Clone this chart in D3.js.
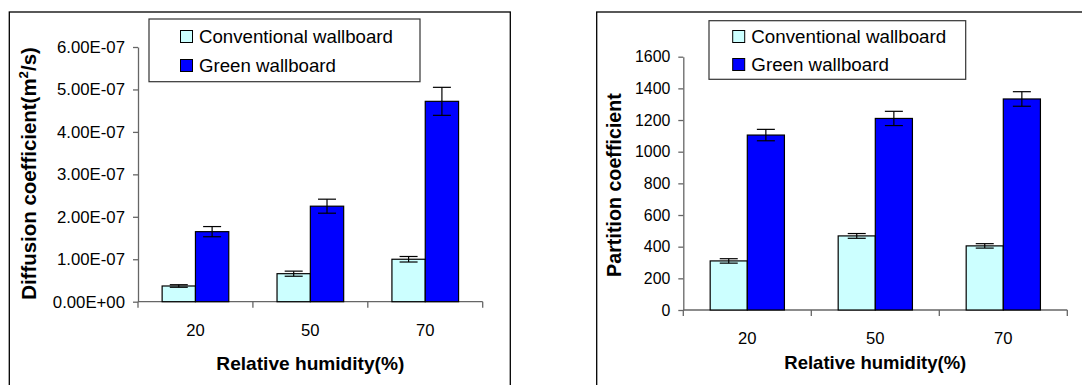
<!DOCTYPE html>
<html>
<head>
<meta charset="utf-8">
<script src="https://cdn.jsdelivr.net/npm/d3@7"></script>
<style>
  html, body { margin: 0; padding: 0; background: #fff; }
  svg { display: block; font-family: "Liberation Sans", Arial, sans-serif; }
</style>
</head>
<body>
<svg id="chart" width="1082" height="385"></svg>
<script>
// ---------- DATA ----------
const categories = ["20", "50", "70"];
const seriesNames = ["Conventional wallboard", "Green wallboard"];

const diffConventional = [0.37e-7, 0.66e-7, 1.00e-7];
const diffConventionalErr = [0.03e-7, 0.06e-7, 0.065e-7];
const diffGreen = [1.65e-7, 2.25e-7, 4.72e-7];
const diffGreenErr = [0.12e-7, 0.165e-7, 0.33e-7];
const diffTicks = [0, 1e-7, 2e-7, 3e-7, 4e-7, 5e-7, 6e-7];
const diffTickLabels = ["0.00E+00", "1.00E-07", "2.00E-07", "3.00E-07", "4.00E-07", "5.00E-07", "6.00E-07"];

const partConventional = [310, 468, 405];
const partConventionalErr = [14, 15, 14];
const partGreen = [1105, 1210, 1333];
const partGreenErr = [36, 45, 46];
const partTicks = [0, 200, 400, 600, 800, 1000, 1200, 1400, 1600];
const partTickLabels = ["0", "200", "400", "600", "800", "1000", "1200", "1400", "1600"];

const xTitle = "Relative humidity(%)";

// ---------- STYLE / LAYOUT ----------
const colors = ["#CCFFFF", "#0000FF"];
const svg = d3.select("#chart");

function fitSize(sel, target) {
  // returns font-size that makes the (first) node's length equal target
  const node = sel.node();
  const fs = parseFloat(sel.attr("font-size"));
  const len = node.getComputedTextLength();
  return len > 0 ? fs * target / len : fs;
}
function fitText(sel, target) {
  sel.attr("font-size", fitSize(sel, target).toFixed(2));
}

function drawPanel(cfg) {
  const g = svg.append("g");
  g.append("rect")
    .attr("x", cfg.frame[0]).attr("y", cfg.frame[1])
    .attr("width", cfg.frame[2]).attr("height", cfg.frame[3])
    .attr("fill", "none").attr("stroke", "#000").attr("stroke-width", 1.3);

  const x = d3.scaleBand().domain(categories).range([cfg.x0, cfg.x1]).padding(0);
  const groupW = x.bandwidth() * 0.58;
  const xs = d3.scaleBand().domain([0, 1]).range([0, groupW]).padding(0);
  const y = d3.scaleLinear().domain([cfg.ticks[0], cfg.ticks[cfg.ticks.length - 1]]).range([cfg.y0, cfg.y1]);

  // Y axis
  const yAxis = d3.axisLeft(y).tickValues(cfg.ticks)
    .tickFormat((d, i) => cfg.tickLabels[i]).tickSizeOuter(0).tickSizeInner(5).tickPadding(8);
  const ya = g.append("g").attr("transform", `translate(${cfg.x0},0)`).call(yAxis);
  ya.attr("font-family", null).attr("font-size", null);
  ya.select(".domain").attr("stroke", "#666").attr("stroke-width", 1.3);
  ya.selectAll(".tick line").attr("stroke", "#666").attr("stroke-width", 1.3);
  const ytexts = ya.selectAll(".tick text").attr("font-size", 15).attr("fill", "#000");
  const top = ytexts.filter((d, i) => i === cfg.ticks.length - 1);
  const yfs = fitSize(top, cfg.yTickLen);
  ytexts.attr("font-size", yfs.toFixed(2));

  // X axis
  const boundaries = categories.map(c => x(c)).concat([cfg.x1]);
  g.append("line").attr("x1", cfg.x0).attr("x2", cfg.x1).attr("y1", cfg.y0).attr("y2", cfg.y0)
    .attr("stroke", "#666").attr("stroke-width", 1.3);
  g.selectAll(".xtick").data(boundaries).join("line")
    .attr("x1", d => d).attr("x2", d => d).attr("y1", cfg.y0).attr("y2", cfg.y0 + 6)
    .attr("stroke", "#666").attr("stroke-width", 1.3);
  const xl = g.selectAll(".xlab").data(categories).join("text")
    .attr("x", d => x(d) + x.bandwidth() / 2).attr("y", cfg.y0 + 34)
    .attr("text-anchor", "middle").attr("font-size", 16.5).text(d => d);
  const xfs = fitSize(d3.select(xl.nodes()[0]), 18.5);
  xl.attr("font-size", xfs.toFixed(2));

  // Bars
  const series = [cfg.conv, cfg.green];
  const errs = [cfg.convErr, cfg.greenErr];
  series.forEach((vals, si) => {
    const bx = (i) => x(categories[i]) + (x.bandwidth() - groupW) / 2 + xs(si);
    g.append("g").selectAll("rect").data(vals).join("rect")
      .attr("x", (d, i) => bx(i)).attr("width", xs.bandwidth())
      .attr("y", d => y(d)).attr("height", d => y(0) - y(d))
      .attr("fill", colors[si]).attr("stroke", "#000").attr("stroke-width", 1.2);
    const eg = g.append("g");
    vals.forEach((v, i) => {
      const cx = bx(i) + xs.bandwidth() / 2;
      const e = errs[si][i];
      eg.append("line").attr("x1", cx).attr("x2", cx).attr("y1", y(v + e)).attr("y2", y(v - e))
        .attr("stroke", "#000").attr("stroke-width", 1.2);
      [v + e, v - e].forEach(yy => {
        eg.append("line").attr("x1", cx - 9).attr("x2", cx + 9).attr("y1", y(yy)).attr("y2", y(yy))
          .attr("stroke", "#000").attr("stroke-width", 1.2);
      });
    });
  });

  // Legend
  const L = cfg.legend;
  g.append("rect").attr("x", L.x).attr("y", L.y).attr("width", L.w).attr("height", L.h)
    .attr("fill", "#fff").attr("stroke", "#333").attr("stroke-width", 1.2);
  const ltexts = [];
  seriesNames.forEach((name, i) => {
    const rowY = L.rowY[i];
    g.append("rect").attr("x", L.sx).attr("y", rowY - 12.5).attr("width", 12).attr("height", 12)
      .attr("fill", colors[i]).attr("stroke", "#000").attr("stroke-width", 1);
    ltexts.push(g.append("text").attr("x", L.tx).attr("y", rowY).attr("font-size", 18).text(name));
  });
  const lfs = fitSize(ltexts[0], L.textLen);
  ltexts.forEach(t => t.attr("font-size", lfs.toFixed(2)));

  // X title
  const xt = g.append("text").attr("x", (cfg.x0 + cfg.x1) / 2).attr("y", cfg.xTitleY)
    .attr("text-anchor", "middle").attr("font-weight", "bold").attr("font-size", 19).text(xTitle);
  fitText(xt, cfg.xTitleLen);

  // Y title
  const yt = g.append("text")
    .attr("transform", `translate(${cfg.yTitle.x},${cfg.yTitle.cy}) rotate(-90)`)
    .attr("text-anchor", "middle").attr("font-weight", "bold").attr("font-size", 19);
  cfg.yTitle.parts.forEach(p => {
    const ts = yt.append("tspan").text(p.t);
    if (p.sup) ts.attr("font-size", "0.65em").attr("dy", "-0.55em");
    if (p.after) ts.attr("dy", "0.357em");
  });
  fitText(yt, cfg.yTitle.len);
}

drawPanel({
  frame: [9.3, 12, 501, 420],
  x0: 138, x1: 482.7, y0: 301.7, y1: 47,
  ticks: diffTicks, tickLabels: diffTickLabels, yTickLen: 68,
  conv: diffConventional, convErr: diffConventionalErr,
  green: diffGreen, greenErr: diffGreenErr,
  legend: { x: 149, y: 19, w: 271, h: 62.7, sx: 180.5, tx: 199, rowY: [43, 72], textLen: 194 },
  xTitleY: 370, xTitleLen: 188,
  yTitle: { x: 35.5, cy: 173.5, len: 253,
    parts: [{ t: "Diffusion coefficient(m" }, { t: "2", sup: true }, { t: "/s)", after: true }] }
});

drawPanel({
  frame: [596.7, 12, 520, 420],
  x0: 683.3, x1: 1067.3, y0: 310, y1: 56.7,
  ticks: partTicks, tickLabels: partTickLabels, yTickLen: 35.3,
  conv: partConventional, convErr: partConventionalErr,
  green: partGreen, greenErr: partGreenErr,
  legend: { x: 709, y: 20.7, w: 256.7, h: 58.6, sx: 732.7, tx: 751.3, rowY: [43, 71], textLen: 195 },
  xTitleY: 369, xTitleLen: 182,
  yTitle: { x: 621, cy: 185, len: 184,
    parts: [{ t: "Partition coefficient" }] }
});
</script>
</body>
</html>
